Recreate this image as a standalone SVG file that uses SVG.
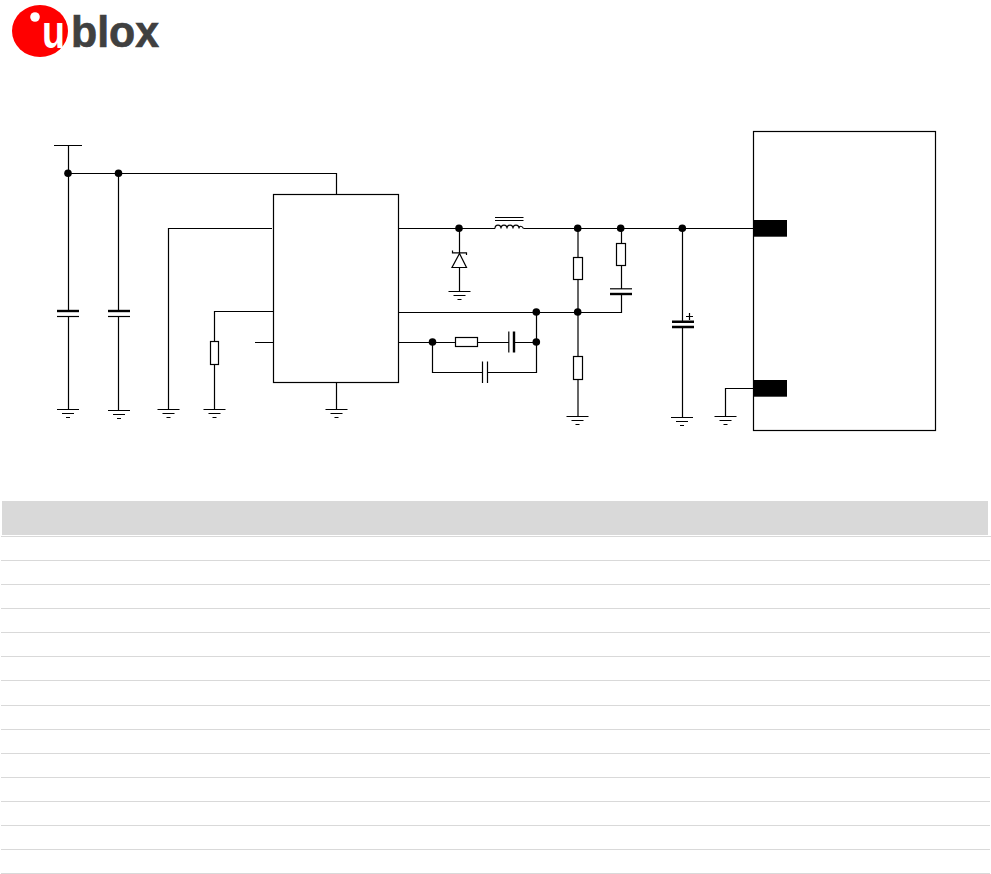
<svg xmlns="http://www.w3.org/2000/svg" width="991" height="874" viewBox="0 0 991 874">
<style>
.w{fill:none;stroke:#000;stroke-width:1.2}
.p{fill:#fff;stroke:#000;stroke-width:1.2}
.t{fill:none;stroke:#000;stroke-width:2.4}
.d{fill:#000}
.r{stroke:#d9d9d9;stroke-width:1}
text{font-family:"Liberation Sans",Arial,sans-serif;font-weight:700}
</style>
<defs>
<g id="gnd"><path class="w" d="M-11 0H11M-6 4H6M-2 8H2"/></g>
</defs>
<rect width="991" height="874" fill="#fff"/>
<g id="logo">
<ellipse cx="40" cy="31" rx="28" ry="26" fill="#f00"/>
<circle cx="35" cy="17" r="4.800" fill="#fff"/>
<text x="42" y="48" font-size="46" fill="#fff" textLength="23" lengthAdjust="spacingAndGlyphs">u</text>
<text x="71" y="47" font-size="44" fill="#404040" stroke="#404040" stroke-width="0.7" textLength="88" lengthAdjust="spacingAndGlyphs">blox</text>
</g>
<g id="connectors">
<path class="w" d="M54 145.500H82M68.500 145.500V311M68.500 316.500V409.500M68.500 173.500H336.500V194M118.500 173.500V311M118.500 316.500V410M168.500 409.500V228.500H272M214.500 409.500V311.500H273.500M255 342.500H273.500M336.500 382.500V409.500"/>
<path class="w" d="M398.500 228.500H495M523.500 228.500H753.500M459.500 228.500V291M578 228.500V416M621.500 228.500V289M621.500 294V312.500H398.500M398.500 342.500H509M514 342.500H536.500M536.500 312.500V372.500H487M482.500 372.500H432.500V342.500M682.500 228.500V322M682.500 327V417M725.500 416V388.500H753.500"/>
</g>
<g id="C1"><path class="t" d="M57 311H79"/><path class="w" d="M57 316.500H79"/></g>
<g id="C2"><path class="t" d="M108 311H130"/><path class="w" d="M108 316.500H130"/></g>
<g id="regulator"><rect class="p" x="273.500" y="194.500" width="125" height="188"/></g>
<g id="R1"><rect class="p" x="210.500" y="341.500" width="8" height="23"/></g>
<g id="grounds">
<use href="#gnd" x="68" y="409.500"/>
<use href="#gnd" x="119" y="410.500"/>
<use href="#gnd" x="168.500" y="409.500"/>
<use href="#gnd" x="214.500" y="409.500"/>
<use href="#gnd" x="336.500" y="409.500"/>
<use href="#gnd" x="459.500" y="291.500"/>
<use href="#gnd" x="577.500" y="416.500"/>
<use href="#gnd" x="682" y="417.500"/>
<use href="#gnd" x="725.500" y="416.500"/>
</g>
<g id="L1"><path class="w" d="M495 228.500C495 224 501 224 501 228.500C501 224 507 224 507 228.500C507 224 513 224 513 228.500C513 224 519 224 519 228.500C519 225.500 522 225.500 523.500 228.500M495 217.500H523.500M495 220.500H523.500"/></g>
<g id="D1"><path class="p" d="M459.500 253.500L466.500 267.500H452Z"/><path class="w" d="M452.500 250.500V252.800H466.500V255"/></g>
<g id="R2"><rect class="p" x="573.500" y="257.500" width="9" height="22"/></g>
<g id="R3"><rect class="p" x="573.500" y="356.500" width="9" height="23"/></g>
<g id="R4"><rect class="p" x="616.500" y="243.500" width="9" height="22"/></g>
<g id="C3"><path class="w" d="M610 288.800H632"/><path class="t" d="M610 294H632"/></g>
<g id="R5"><rect class="p" x="455.500" y="337.500" width="22" height="9"/></g>
<g id="C4"><path class="w" d="M508.800 331.500V352.500"/><path class="t" d="M514 331.500V352.500"/></g>
<g id="C5"><path class="w" d="M482.500 361.500V383M487.500 361.500V383"/></g>
<g id="C6"><path class="t" d="M672 321.700H694M672 327H694"/><path class="w" d="M686 316.500H693M689.500 313V320"/></g>
<g id="junctions">
<circle class="d" cx="68" cy="173.300" r="3.800"/><circle class="d" cx="118.500" cy="173.300" r="3.800"/>
<circle class="d" cx="459" cy="228.300" r="3.800"/><circle class="d" cx="577.700" cy="228.300" r="3.800"/><circle class="d" cx="620.700" cy="228.300" r="3.800"/><circle class="d" cx="682.300" cy="228.300" r="3.800"/>
<circle class="d" cx="536.300" cy="312" r="3.800"/><circle class="d" cx="577.700" cy="312" r="3.800"/>
<circle class="d" cx="432.500" cy="342" r="3.800"/><circle class="d" cx="536.300" cy="342" r="3.800"/>
</g>
<g id="module"><rect class="p" x="753.500" y="131.500" width="182" height="299"/><rect class="d" x="753.500" y="220" width="33.500" height="16.700"/><rect class="d" x="753.500" y="380" width="33.500" height="16.700"/></g>
<g id="table">
<rect x="2" y="501" width="986" height="34" fill="#d9d9d9"/>
<path class="r" d="M1 536.500H991M1 560.500H990M1 584.500H990M1 608.500H990M1 632.500H990M1 656.500H990M1 680.500H990M1 705.500H990M1 729.500H990M1 753.500H990M1 777.500H990M1 801.500H990M1 825.500H990M1 849.500H990M1 873.500H990"/>
</g>
</svg>
